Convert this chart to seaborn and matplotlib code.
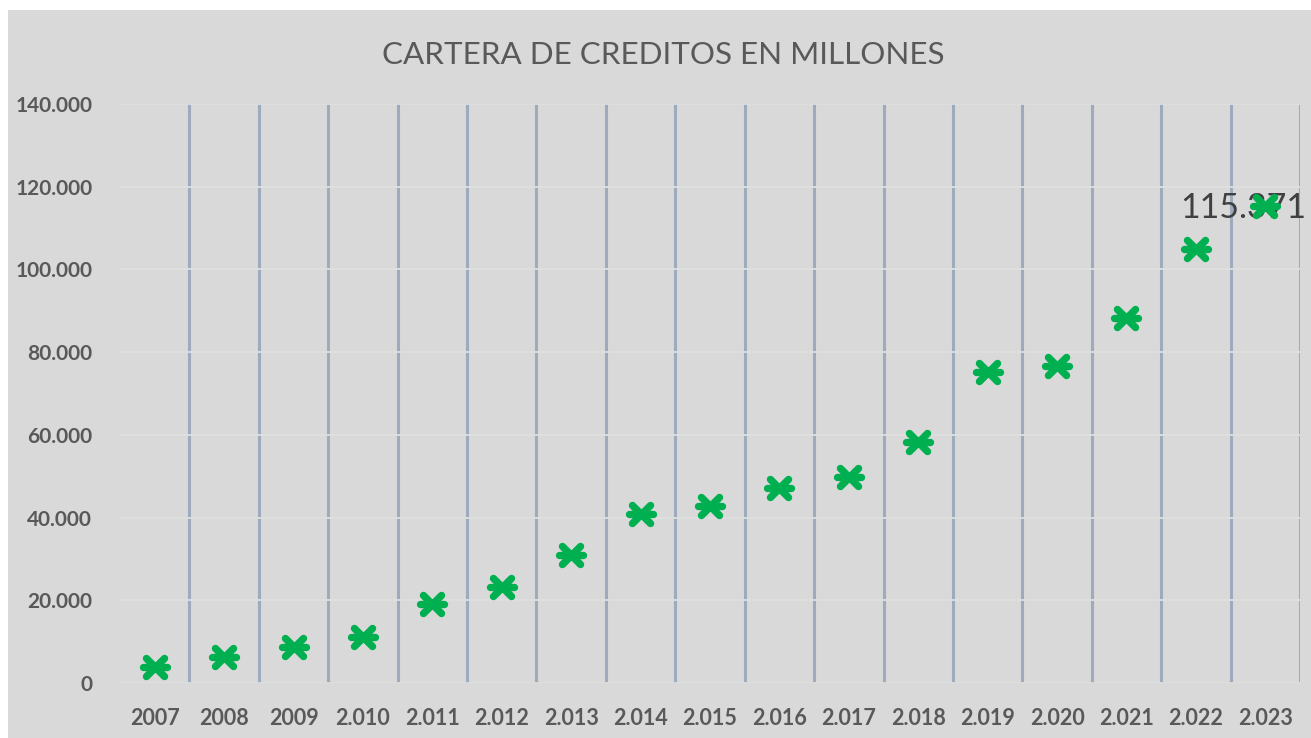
import numpy as np
import pandas as pd
import matplotlib
matplotlib.use("Agg")
import matplotlib.pyplot as plt
import seaborn as sns
from matplotlib.patches import Rectangle
from matplotlib.ticker import FuncFormatter

# -------------------------------
# Data
# -------------------------------
years = ["2007", "2008", "2009", "2.010", "2.011", "2.012", "2.013", "2.014", "2.015",
         "2.016", "2.017", "2.018", "2.019", "2.020", "2.021", "2.022", "2.023"]
cartera = [3800, 6200, 8600, 11200, 19100, 23200, 30900, 40900, 42900,
           47200, 49900, 58300, 75300, 76600, 88200, 104900, 115371]
label_text = "115.371"

df = pd.DataFrame({"year": years, "cartera": cartera})
df["pos"] = np.arange(len(df))

# -------------------------------
# Style
# -------------------------------
sns.set_style("white")
plt.rcParams["font.family"] = ["Lato", "DejaVu Sans"]

bg = "#dad9d9"
green = "#00b050"
txt = "#595959"

fig = plt.figure(figsize=(13.11, 7.38), dpi=100)
fig.patch.set_facecolor("white")
fig.patches.append(Rectangle((8 / 1311, 0), 1 - 8 / 1311, 1 - 10 / 738,
                             transform=fig.transFigure, facecolor=bg,
                             edgecolor="none", zorder=-10))

ax = fig.add_axes([120 / 1311, 1 - 683 / 738, (1300 - 120) / 1311, (683 - 104) / 738])
ax.set_facecolor(bg)

# asterisk marker = 'x' + '_'
for m, s in [("x", 170), ("_", 300)]:
    sns.scatterplot(data=df, x="pos", y="cartera", marker=m, s=s, color=green,
                    linewidth=5.3, ax=ax, zorder=5, legend=False)
for coll in ax.collections:
    coll.set_capstyle("round")

last = df.iloc[-1]
ax.annotate(label_text, (last["pos"], last["cartera"]), xytext=(-22, -2),
            textcoords="offset pixels", ha="center", va="center",
            fontsize=24.5, color="#404040", zorder=3)

ax.set_xlim(-0.5, len(df) - 0.5)
ax.set_ylim(0, 140000)
ax.set_xticks(df["pos"], df["year"])
ax.set_xticks(list(df["pos"] + 0.5), minor=True)
ax.set_yticks(np.arange(0, 140001, 20000))
ax.yaxis.set_major_formatter(FuncFormatter(lambda v, p: f"{int(v):,}".replace(",", ".")))

ax.set_axisbelow(True)
ax.grid(axis="x", which="minor", color="#9eabbf", linewidth=2.2)
ax.grid(axis="y", which="major", color="#e0dfdf", linewidth=1.3)
ax.grid(axis="x", which="major", visible=False)

for sp in ax.spines.values():
    sp.set_visible(False)
ax.tick_params(axis="both", which="both", length=0)
ax.tick_params(axis="y", pad=20, labelsize=15, labelcolor=txt)
ax.tick_params(axis="x", pad=18, labelsize=15.5, labelcolor=txt)
for lab in ax.get_xticklabels() + ax.get_yticklabels():
    lab.set_fontweight("bold")
ax.set_xlabel("")
ax.set_ylabel("")

fig.text(0.506, 1 - 55 / 738, "CARTERA DE CREDITOS EN MILLONES", ha="center", va="center",
         fontsize=22.6, color=txt)

plt.savefig("out.png", dpi=100, facecolor=fig.get_facecolor())
